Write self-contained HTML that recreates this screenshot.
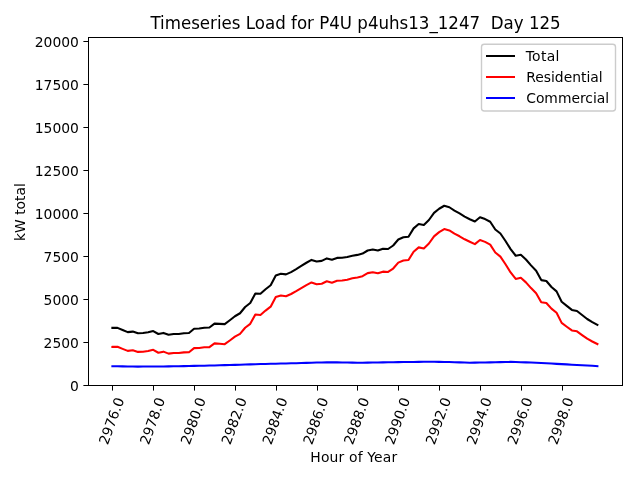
<!DOCTYPE html>
<html lang="en">
<head>
<meta charset="utf-8">
<title>Timeseries Load for P4U p4uhs13_1247 Day 125</title>
<style>
html,body{margin:0;padding:0;background:#fff;}
body{width:640px;height:480px;overflow:hidden;}
svg{display:block;}
svg text{font-family:"DejaVu Sans", "Liberation Sans", sans-serif;font-size:13.889px;fill:#000;white-space:pre;}
.title{font-size:16.667px;}
.ln{fill:none;stroke-width:2.083;stroke-linejoin:round;stroke-linecap:square;}
.tk{stroke:#000;stroke-width:1;shape-rendering:crispEdges;}
</style>
</head>
<body>
<svg width="640" height="480" viewBox="0 0 640 480">
<rect x="0" y="0" width="640" height="480" fill="#fff"/>
<line stroke="#000" x1="112.5" y1="386" x2="112.5" y2="390.6"/>
<text transform="translate(107.80 445.45) rotate(-70)">2976.0</text>
<line stroke="#000" x1="153.5" y1="386" x2="153.5" y2="390.6"/>
<text transform="translate(148.64 445.45) rotate(-70)">2978.0</text>
<line stroke="#000" x1="194.5" y1="386" x2="194.5" y2="390.6"/>
<text transform="translate(189.48 445.45) rotate(-70)">2980.0</text>
<line stroke="#000" x1="235.5" y1="386" x2="235.5" y2="390.6"/>
<text transform="translate(230.33 445.45) rotate(-70)">2982.0</text>
<line stroke="#000" x1="276.5" y1="386" x2="276.5" y2="390.6"/>
<text transform="translate(271.17 445.45) rotate(-70)">2984.0</text>
<line stroke="#000" x1="317.5" y1="386" x2="317.5" y2="390.6"/>
<text transform="translate(312.01 445.45) rotate(-70)">2986.0</text>
<line stroke="#000" x1="357.5" y1="386" x2="357.5" y2="390.6"/>
<text transform="translate(352.85 445.45) rotate(-70)">2988.0</text>
<line stroke="#000" x1="398.5" y1="386" x2="398.5" y2="390.6"/>
<text transform="translate(393.69 445.45) rotate(-70)">2990.0</text>
<line stroke="#000" x1="439.5" y1="386" x2="439.5" y2="390.6"/>
<text transform="translate(434.54 445.45) rotate(-70)">2992.0</text>
<line stroke="#000" x1="480.5" y1="386" x2="480.5" y2="390.6"/>
<text transform="translate(475.38 445.45) rotate(-70)">2994.0</text>
<line stroke="#000" x1="521.5" y1="386" x2="521.5" y2="390.6"/>
<text transform="translate(516.22 445.45) rotate(-70)">2996.0</text>
<line stroke="#000" x1="562.5" y1="386" x2="562.5" y2="390.6"/>
<text transform="translate(557.06 445.45) rotate(-70)">2998.0</text>
<line stroke="#000" x1="83.4" y1="385.5" x2="88" y2="385.5"/>
<text x="78.88" y="390.53" text-anchor="end">0</text>
<line stroke="#000" x1="83.4" y1="342.5" x2="88" y2="342.5"/>
<text x="78.88" y="347.53" text-anchor="end">2500</text>
<line stroke="#000" x1="83.4" y1="299.5" x2="88" y2="299.5"/>
<text x="78.88" y="304.53" text-anchor="end">5000</text>
<line stroke="#000" x1="83.4" y1="256.5" x2="88" y2="256.5"/>
<text x="78.88" y="261.53" text-anchor="end">7500</text>
<line stroke="#000" x1="83.4" y1="213.5" x2="88" y2="213.5"/>
<text x="78.88" y="218.53" text-anchor="end">10000</text>
<line stroke="#000" x1="83.4" y1="170.5" x2="88" y2="170.5"/>
<text x="78.88" y="175.53" text-anchor="end">12500</text>
<line stroke="#000" x1="83.4" y1="127.5" x2="88" y2="127.5"/>
<text x="78.88" y="132.53" text-anchor="end">15000</text>
<line stroke="#000" x1="83.4" y1="84.5" x2="88" y2="84.5"/>
<text x="78.88" y="89.53" text-anchor="end">17500</text>
<line stroke="#000" x1="83.4" y1="41.5" x2="88" y2="41.5"/>
<text x="78.88" y="46.53" text-anchor="end">20000</text>
<text x="310.3" y="462.1" letter-spacing="0.17">Hour of Year</text>
<text transform="translate(25.45 212.05) rotate(-90)" text-anchor="middle">kW total</text>
<text class="title" transform="translate(355.55 28.6) scale(1 1.08)" text-anchor="middle">Timeseries Load for P4U p4uhs13_1247  Day 125</text>
<clipPath id="c"><rect x="88.60" y="37.25" width="533.90" height="348.00"/></clipPath>
<g clip-path="url(#c)">
<polyline class="ln" stroke="#000" points="112.40,327.90 117.51,327.90 122.61,330.00 127.72,332.10 132.82,331.60 137.93,333.25 143.03,333.00 148.14,332.25 153.24,331.10 158.35,334.00 163.45,332.90 168.56,334.75 173.66,334.00 178.77,334.00 183.87,333.25 188.98,333.00 194.08,328.75 199.19,328.50 204.29,327.75 209.40,327.50 214.51,323.60 219.61,323.90 224.72,324.10 229.82,320.25 234.93,316.25 240.03,313.25 245.14,307.00 250.24,303.00 255.35,293.50 260.45,293.75 265.56,289.25 270.66,285.25 275.77,275.40 280.87,273.75 285.98,274.40 291.08,272.10 296.19,269.10 301.29,265.90 306.40,262.75 311.51,259.90 316.61,261.50 321.72,260.90 326.82,258.40 331.93,259.75 337.03,257.90 342.14,257.75 347.24,257.00 352.35,255.75 357.45,254.90 362.56,253.60 367.66,250.50 372.77,249.50 377.87,250.50 382.98,248.75 388.08,249.00 393.19,245.50 398.29,239.50 403.40,237.25 408.51,236.75 413.61,228.40 418.72,224.00 423.82,225.00 428.93,220.00 434.03,212.90 439.14,208.75 444.24,205.75 449.35,207.25 454.45,210.60 459.56,213.40 464.66,216.60 469.77,219.25 474.87,221.50 479.98,217.25 485.08,219.10 490.19,221.75 495.29,229.50 500.40,233.50 505.51,241.00 510.61,249.10 515.72,255.75 520.82,254.75 525.93,259.50 531.03,265.40 536.14,270.75 541.24,280.10 546.35,281.00 551.45,287.00 556.56,291.40 561.66,301.75 566.77,305.90 571.87,309.90 576.98,311.05 582.08,315.05 587.19,319.00 592.29,322.10 597.40,324.90"/>
<polyline class="ln" stroke="#f00" points="112.40,346.91 117.51,346.84 122.61,348.87 127.72,350.90 132.82,350.33 137.93,351.91 143.03,351.68 148.14,350.95 153.24,349.81 158.35,352.73 163.45,351.65 168.56,353.60 173.66,352.95 178.77,353.05 183.87,352.40 188.98,352.25 194.08,348.10 199.19,347.96 204.29,347.32 209.40,347.17 214.51,343.38 219.61,343.83 224.72,344.19 229.82,340.49 234.93,336.65 240.03,333.80 245.14,327.71 250.24,323.86 255.35,314.52 260.45,314.92 265.56,310.58 270.66,306.70 275.77,296.97 280.87,295.44 285.98,296.21 291.08,294.03 296.19,291.18 301.29,288.14 306.40,285.14 311.51,282.45 316.61,284.20 321.72,283.70 326.82,281.30 331.93,282.75 337.03,280.80 342.14,280.55 347.24,279.70 352.35,278.35 357.45,277.40 362.56,276.18 367.66,273.15 372.77,272.23 377.87,273.31 382.98,271.64 388.08,271.97 393.19,268.55 398.29,262.61 403.40,260.43 408.51,259.99 413.61,251.70 418.72,247.37 423.82,248.43 428.93,243.50 434.03,236.33 439.14,232.11 444.24,229.04 449.35,230.47 454.45,233.65 459.56,236.28 464.66,239.30 469.77,241.78 474.87,244.12 479.98,239.95 485.08,241.89 490.19,244.63 495.29,252.49 500.40,256.61 505.51,264.22 510.61,272.44 515.72,278.93 520.82,277.77 525.93,282.36 531.03,288.10 536.14,293.22 541.24,302.34 546.35,302.96 551.45,308.68 556.56,312.80 561.66,322.88 566.77,326.75 571.87,330.46 576.98,331.33 582.08,335.05 587.19,338.71 592.29,341.53 597.40,344.04"/>
<polyline class="ln" stroke="#00f" points="112.40,366.24 117.51,366.31 122.61,366.38 127.72,366.45 132.82,366.52 137.93,366.59 143.03,366.57 148.14,366.55 153.24,366.54 158.35,366.52 163.45,366.50 168.56,366.40 173.66,366.30 178.77,366.20 183.87,366.10 188.98,366.00 194.08,365.90 199.19,365.79 204.29,365.68 209.40,365.58 214.51,365.47 219.61,365.32 224.72,365.16 229.82,365.01 234.93,364.85 240.03,364.70 245.14,364.54 250.24,364.39 255.35,364.23 260.45,364.08 265.56,363.92 270.66,363.80 275.77,363.68 280.87,363.56 285.98,363.44 291.08,363.32 296.19,363.17 301.29,363.01 306.40,362.86 311.51,362.70 316.61,362.55 321.72,362.45 326.82,362.35 331.93,362.25 337.03,362.35 342.14,362.45 347.24,362.55 352.35,362.65 357.45,362.75 362.56,362.67 367.66,362.60 372.77,362.52 377.87,362.44 382.98,362.36 388.08,362.28 393.19,362.20 398.29,362.14 403.40,362.07 408.51,362.01 413.61,361.95 418.72,361.88 423.82,361.82 428.93,361.75 434.03,361.82 439.14,361.89 444.24,361.96 449.35,362.03 454.45,362.20 459.56,362.37 464.66,362.55 469.77,362.72 474.87,362.63 479.98,362.55 485.08,362.46 490.19,362.37 495.29,362.26 500.40,362.14 505.51,362.03 510.61,361.91 515.72,362.07 520.82,362.23 525.93,362.39 531.03,362.55 536.14,362.78 541.24,363.01 546.35,363.29 551.45,363.57 556.56,363.85 561.66,364.12 566.77,364.40 571.87,364.69 576.98,364.97 582.08,365.25 587.19,365.54 592.29,365.82 597.40,366.11"/>
</g>
<rect class="tk" x="88.5" y="37.5" width="534" height="348" fill="none"/>
<rect x="481.50" y="44.30" width="134.00" height="66.70" rx="2.78" ry="2.78" fill="#fff" fill-opacity="0.8" stroke="#ccc" stroke-width="1.389"/>
<line stroke="#000" stroke-width="2" x1="486" y1="56" x2="515" y2="56"/>
<text x="525.70" y="60.75" letter-spacing="0.3">Total</text>
<line stroke="#f00" stroke-width="2" x1="486" y1="77" x2="515" y2="77"/>
<text x="526.20" y="81.75">Residential</text>
<line stroke="#00f" stroke-width="2" x1="486" y1="98" x2="515" y2="98"/>
<text x="526.20" y="102.75">Commercial</text>
</svg>
</body>
</html>
